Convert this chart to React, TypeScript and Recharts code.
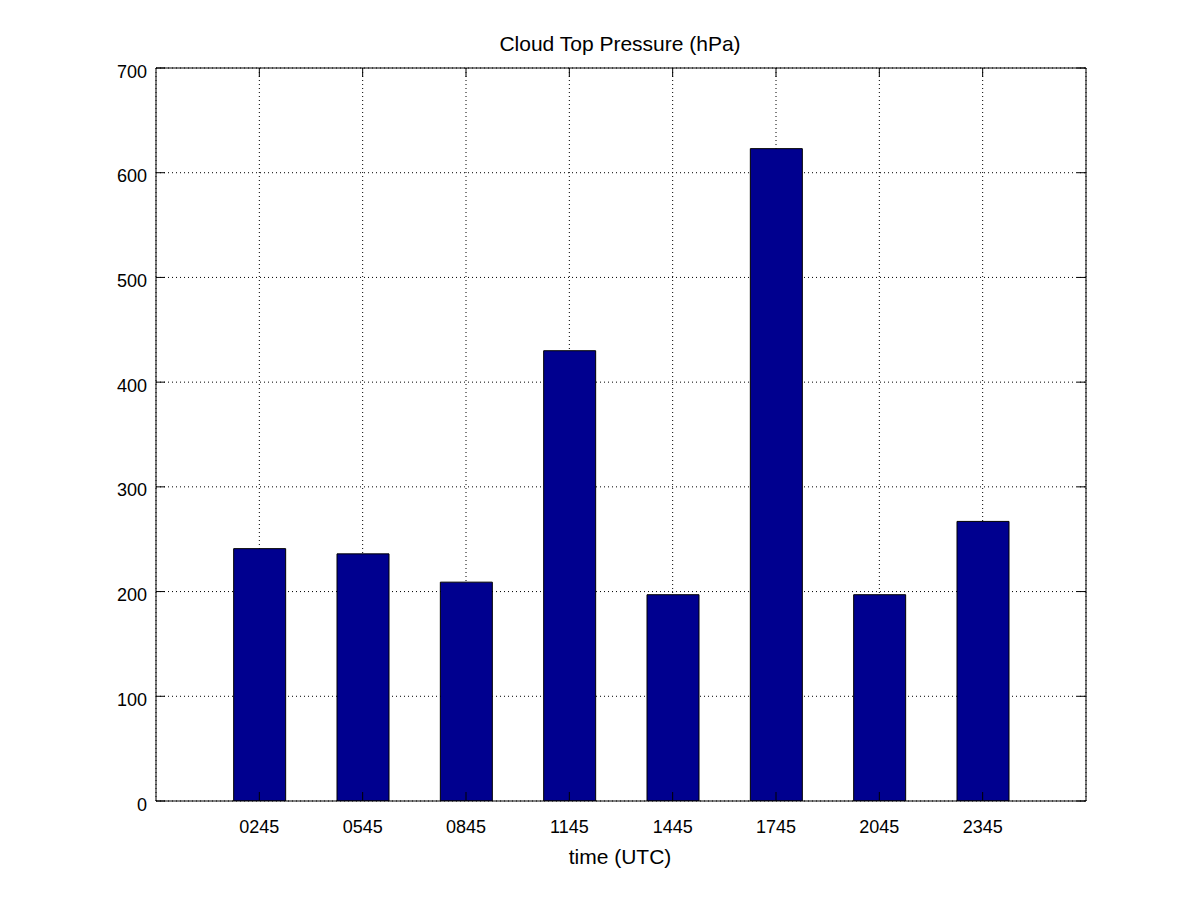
import React from 'react';
import { BarChart, Bar, XAxis, YAxis, CartesianGrid } from 'recharts';

const categories = ['0245', '0545', '0845', '1145', '1445', '1745', '2045', '2345'];
const positions = [1, 2, 3, 4, 5, 6, 7, 8];
const pressureValues = [241, 236, 209, 430, 197, 623, 197, 267];
const yTicks = [0, 100, 200, 300, 400, 500, 600, 700];
const xDomain = [0, 9];
const yDomain = [0, 700];

const data = categories.map((c, i) => ({ x: positions[i], label: c, v: pressureValues[i] }));

const FONT = '"Liberation Sans", Arial, Helvetica, sans-serif';

const XTick = (props: any) => {
  const { x, y, payload } = props;
  const idx = positions.indexOf(payload.value);
  return (
    <text x={x} y={y + 32} textAnchor="middle" fontSize={18} fontFamily={FONT} fill="#000">
      {idx >= 0 ? categories[idx] : ''}
    </text>
  );
};

const YTick = (props: any) => {
  const { x, y, payload } = props;
  return (
    <text x={x - 9} y={y + 9.5} textAnchor="end" fontSize={18} fontFamily={FONT} fill="#000">
      {payload.value}
    </text>
  );
};

const Empty = () => <g />;

export default function App() {
  return (
    <div style={{ position: 'absolute', left: 0, top: 0, width: 1200, height: 900, background: '#fff' }}>
      <BarChart
        width={1200}
        height={900}
        data={data}
        margin={{ top: 68, right: 114, bottom: 39, left: 96 }}
      >
        <CartesianGrid stroke="#000" strokeDasharray="1 3" xAxisId={0} yAxisId={0} />
        <XAxis
          xAxisId={0}
          type="number"
          dataKey="x"
          domain={xDomain}
          ticks={positions}
          allowDataOverflow
          height={60}
          tickSize={0}
          tickMargin={0}
          tickLine={false}
          axisLine={false}
          tick={<XTick />}
          interval={0}
        />
        <YAxis
          yAxisId={0}
          type="number"
          domain={yDomain}
          ticks={yTicks}
          allowDataOverflow
          width={60}
          tickSize={0}
          tickMargin={0}
          tickLine={false}
          axisLine={false}
          tick={<YTick />}
          interval={0}
        />
        <XAxis
          xAxisId="bm"
          orientation="bottom"
          mirror
          type="number"
          dataKey="x"
          domain={xDomain}
          ticks={positions}
          allowDataOverflow
          tickSize={9}
          tickLine={{ stroke: '#000' }}
          axisLine={{ stroke: '#000' }}
          tick={<Empty />}
          interval={0}
        />
        <XAxis
          xAxisId="tm"
          orientation="top"
          mirror
          type="number"
          dataKey="x"
          domain={xDomain}
          ticks={positions}
          allowDataOverflow
          tickSize={9}
          tickLine={{ stroke: '#000' }}
          axisLine={{ stroke: '#000' }}
          tick={<Empty />}
          interval={0}
        />
        <YAxis
          yAxisId="lm"
          orientation="left"
          mirror
          type="number"
          dataKey="v"
          domain={yDomain}
          ticks={yTicks}
          allowDataOverflow
          tickSize={9}
          tickLine={{ stroke: '#000' }}
          axisLine={{ stroke: '#000' }}
          tick={<Empty />}
          interval={0}
        />
        <YAxis
          yAxisId="rm"
          orientation="right"
          mirror
          type="number"
          dataKey="v"
          domain={yDomain}
          ticks={yTicks}
          allowDataOverflow
          tickSize={9}
          tickLine={{ stroke: '#000' }}
          axisLine={{ stroke: '#000' }}
          tick={<Empty />}
          interval={0}
        />
        <Bar
          xAxisId={0}
          yAxisId={0}
          dataKey="v"
          fill="#00008F"
          stroke="#000"
          strokeWidth={1}
          barSize={52}
          isAnimationActive={false}
        />
      </BarChart>
      <svg
        width={1200}
        height={900}
        style={{ position: 'absolute', left: 0, top: 0, pointerEvents: 'none' }}
      >
        <text x={620} y={51} textAnchor="middle" fontSize={21} fontFamily={FONT} fill="#000">
          Cloud Top Pressure (hPa)
        </text>
        <text x={620} y={864} textAnchor="middle" fontSize={21} fontFamily={FONT} fill="#000">
          time (UTC)
        </text>
      </svg>
    </div>
  );
}
